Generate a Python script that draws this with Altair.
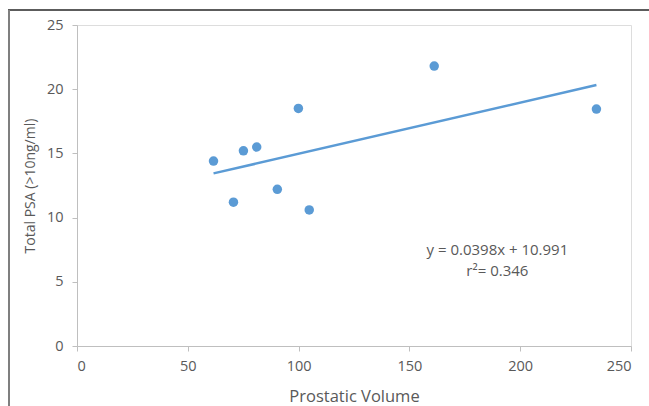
import altair as alt
import pandas as pd

volume = [61.6, 70.6, 75.1, 81.1, 90.4, 99.9, 104.8, 161.2, 234.4]
psa = [14.4, 11.2, 15.2, 15.5, 12.2, 18.5, 10.6, 21.8, 18.45]
slope = 0.0398
intercept = 10.991
eq_lines = ["y = 0.0398x + 10.991", "r²= 0.346"]
eq_x = [189.7, 189.7]
eq_y = [7.48, 5.84]

FONT = "Open Sans"
TXT = "#595959"
BLUE = "#5b9bd5"

pts = pd.DataFrame({"v": volume, "p": psa})
xmin, xmax = min(volume), max(volume)
trend = pd.DataFrame({"v": [xmin, xmax],
                      "p": [slope * xmin + intercept, slope * xmax + intercept]})
eq = pd.DataFrame({"v": eq_x, "p": eq_y, "t": eq_lines})

xs = alt.Scale(domain=[0, 250], nice=False)
ys = alt.Scale(domain=[0, 25], nice=False)

xax = alt.Axis(values=[0, 50, 100, 150, 200, 250], grid=False, domainColor="#bfbfbf",
               tickColor="#bfbfbf", tickSize=5, labelColor=TXT, labelFont=FONT,
               labelFontSize=14.5, labelPadding=8, title="Prostatic Volume",
               titleColor=TXT, titleFont=FONT, titleFontSize=16.5, titleFontWeight="normal",
               titlePadding=16)
yax = alt.Axis(values=[0, 5, 10, 15, 20, 25], grid=False, domainColor="#bfbfbf",
               tickColor="#bfbfbf", tickSize=5, labelColor=TXT, labelFont=FONT,
               labelFontSize=14.5, labelPadding=9, title="Total PSA (>10ng/ml)",
               titleColor=TXT, titleFont=FONT, titleFontSize=14, titleFontWeight="normal",
               titlePadding=9)

points = alt.Chart(pts).mark_circle(size=90, color=BLUE, opacity=1).encode(
    x=alt.X("v:Q", scale=xs, axis=xax),
    y=alt.Y("p:Q", scale=ys, axis=yax),
)
line = alt.Chart(trend).mark_line(color=BLUE, strokeWidth=2.5).encode(
    x=alt.X("v:Q", scale=xs), y=alt.Y("p:Q", scale=ys)
)
text = alt.Chart(eq).mark_text(font=FONT, fontSize=15, color=TXT).encode(
    x=alt.X("v:Q", scale=xs), y=alt.Y("p:Q", scale=ys), text="t:N"
)
frame_top = alt.Chart(pd.DataFrame({"a": [0]})).mark_rule(color="#262626", strokeWidth=1.5, clip=False).encode(
    x=alt.value(-69), x2=alt.value(573), y=alt.value(-15)
)
frame_left = alt.Chart(pd.DataFrame({"a": [0]})).mark_rule(color="#7f7f7f", strokeWidth=2, clip=False).encode(
    x=alt.value(-68), y=alt.value(-15), y2=alt.value(381)
)

chart = (frame_top + frame_left + line + points + text).properties(
    width=554, height=321,
    autosize=alt.AutoSizeParams(type="none"),
    padding={"left": 77, "top": 25, "right": 18, "bottom": 60},
).configure_view(stroke=None).configure(background="white")

chart.save("out.html", embed_options={"renderer": "svg", "actions": False})
